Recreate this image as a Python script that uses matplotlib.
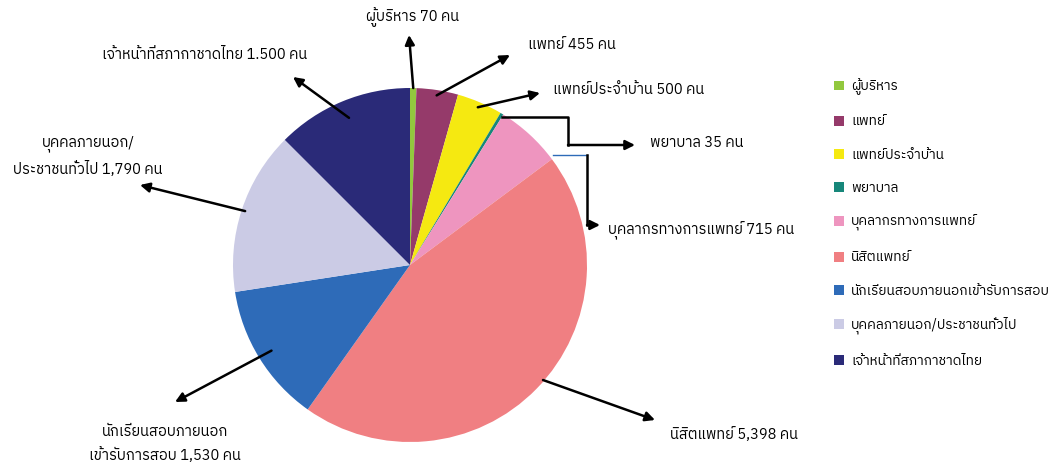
import numpy as np
import matplotlib
matplotlib.use('Agg')
import matplotlib.pyplot as plt
from matplotlib import font_manager
from matplotlib.ft2font import FT2Font

# Data
categories = ['ผู้บริหาร', 'แพทย์', 'แพทย์ประจำบ้าน', 'พยาบาล', 'บุคลากรทางการแพทย์',
              'นิสิตแพทย์', 'นักเรียนสอบภายนอกเข้ารับการสอบ', 'บุคคลภายนอก/ประชาชนทั่วไป',
              'เจ้าหน้าที่สภากาชาดไทย']
values = [70, 455, 500, 35, 715, 5398, 1530, 1790, 1500]
labels = ['ผู้บริหาร 70 คน', 'แพทย์ 455 คน', 'แพทย์ประจำบ้าน 500 คน', 'พยาบาล 35 คน',
          'บุคลากรทางการแพทย์ 715 คน', 'นิสิตแพทย์ 5,398 คน',
          'นักเรียนสอบภายนอก\nเข้ารับการสอบ 1,530 คน',
          'บุคคลภายนอก/\nประชาชนทั่วไป 1,790 คน', 'เจ้าหน้าที่สภากาชาดไทย 1.500 คน']
colors = ['#92c83e', '#953a6a', '#f5e911', '#17877a', '#ee95bf',
          '#f07f82', '#2e6bb8', '#cbcbe5', '#2a2a78']


# pick a font that has Thai glyphs
def find_thai_font():
    fonts = sorted(font_manager.fontManager.ttflist,
                   key=lambda f: ('Thai' not in f.name, f.weight != 400, f.name))
    for f in fonts:
        try:
            if 0x0E01 in FT2Font(f.fname).get_charmap():
                return f.name
        except Exception:
            pass
    return 'DejaVu Sans'


thai = find_thai_font()
plt.rcParams['font.family'] = [thai, 'DejaVu Sans']

W, H = 1056, 471
fig = plt.figure(figsize=(W / 100, H / 100), dpi=100)

# pie centre / radius in pixels
cx, cy, r = 410, 265, 177
ax = fig.add_axes([(cx - r) / W, (H - cy - r) / H, 2 * r / W, 2 * r / H])
wedges, _ = ax.pie(values, colors=colors, startangle=90, counterclock=False,
                   radius=1, wedgeprops=dict(linewidth=0))
ax.set_xlim(-1, 1)
ax.set_ylim(-1, 1)
ax.set_aspect('equal')
ax.axis('off')


def px(x, y):
    # pixel position -> data coords of the pie axes
    return ((x - cx) / r, (cy - y) / r)


def edge(i, frac=0.5, rad=1.0):
    w = wedges[i]
    a = np.deg2rad(w.theta1 + (w.theta2 - w.theta1) * frac)
    return (rad * np.cos(a), rad * np.sin(a))


arrow = dict(arrowstyle='-|>', color='black', lw=1.8, mutation_scale=14,
             shrinkA=0, shrinkB=0)


def pointer(tail, head):
    ax.annotate('', xy=head, xytext=tail, arrowprops=arrow, annotation_clip=False)


# straight arrows
pointer(edge(0, 0.5, 1.0), px(409, 35))
pointer(edge(1, 0.5, 0.97), px(510, 55))
pointer(edge(2, 0.5, 0.97), px(540, 93))
pointer(px(543, 380), px(655, 420))
pointer(edge(6, 0.5, 0.92), px(175, 402))
pointer(edge(7, 0.5, 0.98), px(140, 185))
pointer(edge(8, 0.5, 0.9), px(293, 77))

# elbow arrow for พยาบาล
p0 = edge(3, 0.5, 1.0)
p1 = px(568, 117)
p2 = px(568, 145)
ax.plot([p0[0], p1[0], p1[0]], [p1[1], p1[1], p2[1]], color='black', lw=1.8, clip_on=False)
pointer(p2, px(635, 145))

# elbow arrow for บุคลากรทางการแพทย์
q0 = px(553, 155)
q1 = px(587, 155)
q2 = px(587, 225)
ax.plot([q0[0], q1[0]], [q1[1], q1[1]], color='#2e6bb8', lw=1, clip_on=False)
ax.plot([q1[0], q2[0]], [q1[1], q2[1]], color='black', lw=1.8, clip_on=False)
pointer(q2, px(600, 225))

# labels
label_pos = [(413, 17, 'center'), (528, 45, 'left'), (553, 90, 'left'), (650, 143, 'left'),
             (608, 231, 'left'), (670, 435, 'left'), (165, 444, 'center'),
             (88, 156, 'center'), (205, 55, 'center')]
for lab, (x, y, ha) in zip(labels, label_pos):
    ax.text(*px(x, y), lab, ha=ha, va='center', fontsize=10.5, linespacing=1.65,
            multialignment='center', clip_on=False)

fig.legend(wedges, categories, loc='upper left', bbox_to_anchor=(822 / W, 1 - 66 / H),
           frameon=False, labelspacing=1.42, handlelength=0.75, handleheight=0.75,
           handletextpad=0.5, fontsize=9.8)

fig.savefig('out.png', dpi=100)
